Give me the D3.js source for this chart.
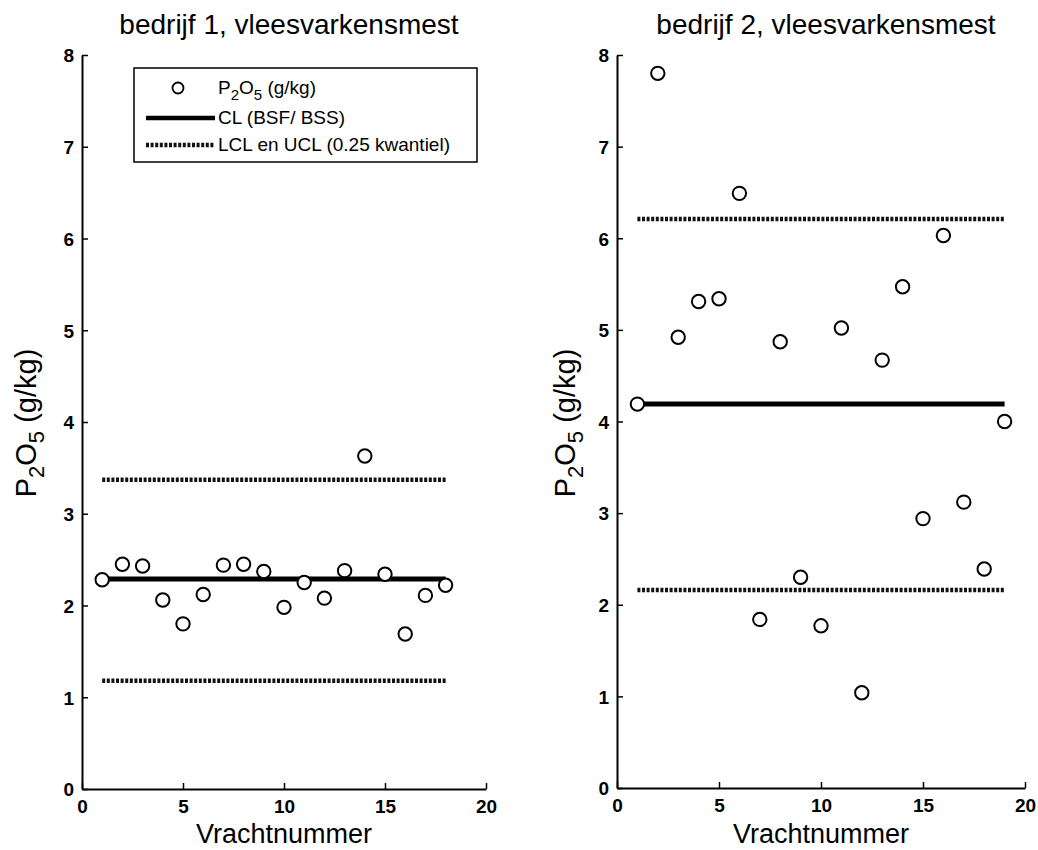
<!DOCTYPE html>
<html>
<head>
<meta charset="utf-8">
<script src="https://cdn.jsdelivr.net/npm/d3@7"></script>
<style>
  body { margin: 0; background: #fff; }
  svg { display: block; font-family: "Liberation Sans", Arial, sans-serif; }
</style>
</head>
<body>
<svg id="chart" width="1038" height="850"></svg>
<script>
// ---- data ----
const titles = ["bedrijf 1, vleesvarkensmest", "bedrijf 2, vleesvarkensmest"];
const xTicks = [0, 5, 10, 15, 20];
const yTicks = [0, 1, 2, 3, 4, 5, 6, 7, 8];
const vracht1 = [1,2,3,4,5,6,7,8,9,10,11,12,13,14,15,16,17,18];
const p2o5_1 = [2.28,2.45,2.43,2.06,1.80,2.12,2.44,2.45,2.37,1.98,2.25,2.08,2.38,3.63,2.34,1.69,2.11,2.22];
const vracht2 = [1,2,3,4,5,6,7,8,9,10,11,12,13,14,15,16,17,18,19];
const p2o5_2 = [4.19,7.80,4.92,5.31,5.34,6.49,1.84,4.87,2.30,1.77,5.02,1.04,4.67,5.47,2.94,6.03,3.12,2.39,4.00];
const CL = [2.29, 4.19];
const UCL = [3.37, 6.21];
const LCL = [1.18, 2.16];
const legendLabels = ["CL (BSF/ BSS)", "LCL en UCL (0.25 kwantiel)"];

const svg = d3.select("#chart");

const panels = [
  {x0: 82, x1: 486, y0: 789, y1: 55, vx: vracht1, vy: p2o5_1, cl: CL[0], ucl: UCL[0], lcl: LCL[0], title: titles[0], labelX: 36, legend: true},
  {x0: 617, x1: 1025, y0: 788, y1: 55, vx: vracht2, vy: p2o5_2, cl: CL[1], ucl: UCL[1], lcl: LCL[1], title: titles[1], labelX: 575, legend: false}
];

panels.forEach(p => {
  const x = d3.scaleLinear().domain([0, 20]).range([p.x0, p.x1]);
  const y = d3.scaleLinear().domain([0, 8]).range([p.y0, p.y1]);
  const g = svg.append("g");

  // axes
  const xAxis = d3.axisBottom(x).tickValues(xTicks).tickSizeInner(-6).tickSizeOuter(0).tickPadding(8);
  const gx = g.append("g").attr("transform", `translate(0,${p.y0})`).call(xAxis);
  const yAxis = d3.axisLeft(y).tickValues(yTicks).tickSizeInner(-6).tickSizeOuter(0).tickPadding(8);
  const gy = g.append("g").attr("transform", `translate(${p.x0},0)`).call(yAxis);
  [gx, gy].forEach(a => {
    a.select(".domain").attr("stroke", "#000").attr("stroke-width", 2);
    a.selectAll(".tick line").attr("stroke", "#000").attr("stroke-width", 1.5);
    a.selectAll(".tick text").attr("fill", "#000").attr("font-size", 19).attr("font-weight", "bold")
      .attr("font-family", "Liberation Sans, Arial, sans-serif");
  });
  gx.selectAll(".tick text").attr("dy", "0.82em");
  gy.selectAll(".tick text").attr("dy", "0.36em");

  const xs = d3.extent(p.vx);
  const line = d3.line().x(d => x(d[0])).y(d => y(d[1]));

  // control limits
  [p.ucl, p.lcl].forEach(v => {
    g.append("path").datum([[xs[0], v], [xs[1], v]]).attr("d", line)
      .attr("stroke", "#111").attr("stroke-width", 4.5).attr("fill", "none")
      .attr("stroke-dasharray", "3,1.6");
  });
  g.append("path").datum([[xs[0], p.cl], [xs[1], p.cl]]).attr("d", line)
    .attr("stroke", "#000").attr("stroke-width", 5).attr("fill", "none");

  // points
  g.selectAll("circle.pt").data(p.vx.map((v, i) => [v, p.vy[i]])).enter().append("circle")
    .attr("class", "pt").attr("cx", d => x(d[0])).attr("cy", d => y(d[1])).attr("r", 6.7)
    .attr("fill", "#fff").attr("stroke", "#000").attr("stroke-width", 2);

  // title
  g.append("text").attr("x", (p.x0 + p.x1) / 2 + 5).attr("y", 34).attr("text-anchor", "middle")
    .attr("font-size", 28).text(p.title);
  // x label
  g.append("text").attr("x", (p.x0 + p.x1) / 2).attr("y", 843).attr("text-anchor", "middle")
    .attr("font-size", 27).text("Vrachtnummer");
  // y label
  const yl = g.append("text").attr("transform", `translate(${p.labelX},${423}) rotate(-90)`)
    .attr("text-anchor", "middle").attr("font-size", 29);
  yl.append("tspan").text("P");
  yl.append("tspan").attr("font-size", 22).attr("dy", 8).text("2");
  yl.append("tspan").attr("dy", -8).text("O");
  yl.append("tspan").attr("font-size", 22).attr("dy", 8).text("5");
  yl.append("tspan").attr("dy", -8).text(" (g/kg)");

  if (p.legend) {
    const lg = g.append("g");
    lg.append("rect").attr("x", 134).attr("y", 68).attr("width", 343).attr("height", 94)
      .attr("fill", "#fff").attr("stroke", "#000").attr("stroke-width", 1.5);
    lg.append("circle").attr("cx", 178).attr("cy", 88).attr("r", 5.5)
      .attr("fill", "#fff").attr("stroke", "#000").attr("stroke-width", 1.8);
    const t1 = lg.append("text").attr("x", 218).attr("y", 94).attr("font-size", 19);
    t1.append("tspan").text("P");
    t1.append("tspan").attr("font-size", 15).attr("dy", 6).text("2");
    t1.append("tspan").attr("dy", -6).text("O");
    t1.append("tspan").attr("font-size", 15).attr("dy", 6).text("5");
    t1.append("tspan").attr("dy", -6).text(" (g/kg)");
    lg.append("line").attr("x1", 146).attr("x2", 215).attr("y1", 118).attr("y2", 118)
      .attr("stroke", "#000").attr("stroke-width", 4.5);
    lg.append("text").attr("x", 218).attr("y", 124).attr("font-size", 19).text(legendLabels[0]);
    lg.append("line").attr("x1", 146).attr("x2", 215).attr("y1", 145).attr("y2", 145)
      .attr("stroke", "#111").attr("stroke-width", 4.5).attr("stroke-dasharray", "3,1.6");
    lg.append("text").attr("x", 218).attr("y", 151).attr("font-size", 19).text(legendLabels[1]);
  }
});
</script>
</body>
</html>
